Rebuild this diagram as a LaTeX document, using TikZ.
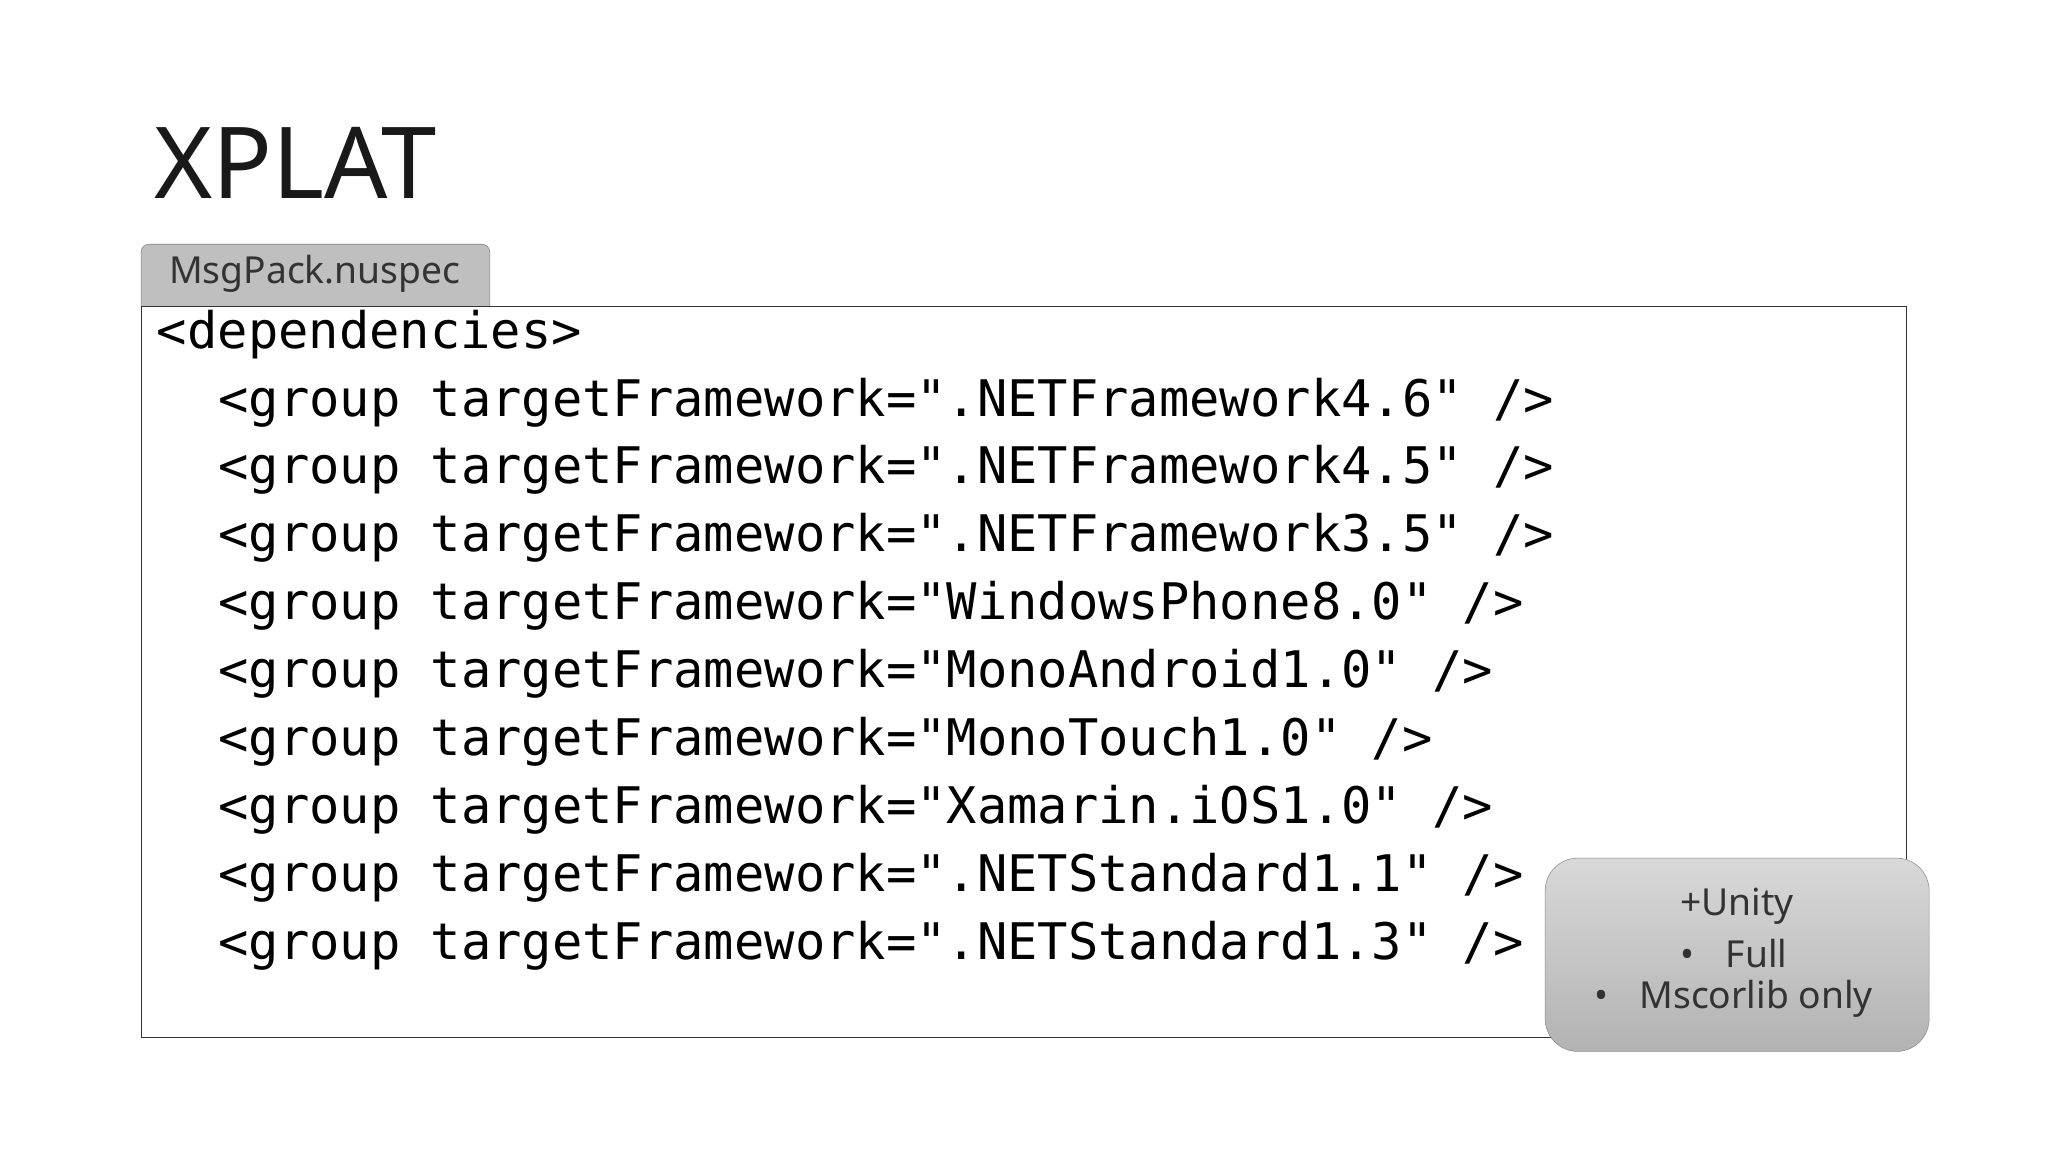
\documentclass[tikz,border=0pt]{standalone}
\usepackage{fontspec}
\setmainfont{Noto Sans}
\newfontfamily\codefont{DejaVu Sans Mono}
\begin{document}
\begin{tikzpicture}[x=1pt,y=-1pt,
  code/.style={anchor=west,inner sep=0pt,font=\codefont\fontsize{38.6}{40}\selectfont},
  ui/.style={font=\fontsize{28.5}{30}\selectfont,text=black!80}]
\useasboundingbox (0,0) rectangle (1568,882);
\fill[white] (0,0) rectangle (1568,882);
\node[anchor=west,inner sep=0pt,font=\fontsize{76}{80}\selectfont,text=black!90] (title) at (118,125) {XPLAT};
\draw[black!50,fill=black!25,rounded corners=6pt] (108,235) -- (108,187) -- (375,187) -- (375,235);
\node[ui] (tab) at (241,210) {MsgPack.nuspec};
\draw[black!80,line width=0.8pt] (108,235) rectangle (1460,794);
\node[code] (l0) at (120,256) {<dependencies>};
\foreach \t [count=\i] in {".NETFramework4.6" />,".NETFramework4.5" />,".NETFramework3.5" />,"WindowsPhone8.0" />,"MonoAndroid1.0" />,"MonoTouch1.0" />,"Xamarin.iOS1.0" />,".NETStandard1.1" />,".NETStandard1.3" />}
  \node[code] (l\i) at (167,{256+52*\i}) {<group targetFramework=\t};
\shade[top color=black!15,bottom color=black!30,rounded corners=25pt] (1183,657) rectangle (1477,805);
\draw[black!45,rounded corners=25pt] (1183,657) rectangle (1477,805);
\node[ui] (u) at (1330,694) {+Unity};
\node[ui,anchor=west] (b1) at (1283,730) {•\hspace{24pt}Full};
\node[ui,anchor=west] (b2) at (1217,765) {•\hspace{24pt}Mscorlib only};
\end{tikzpicture}
\end{document}
